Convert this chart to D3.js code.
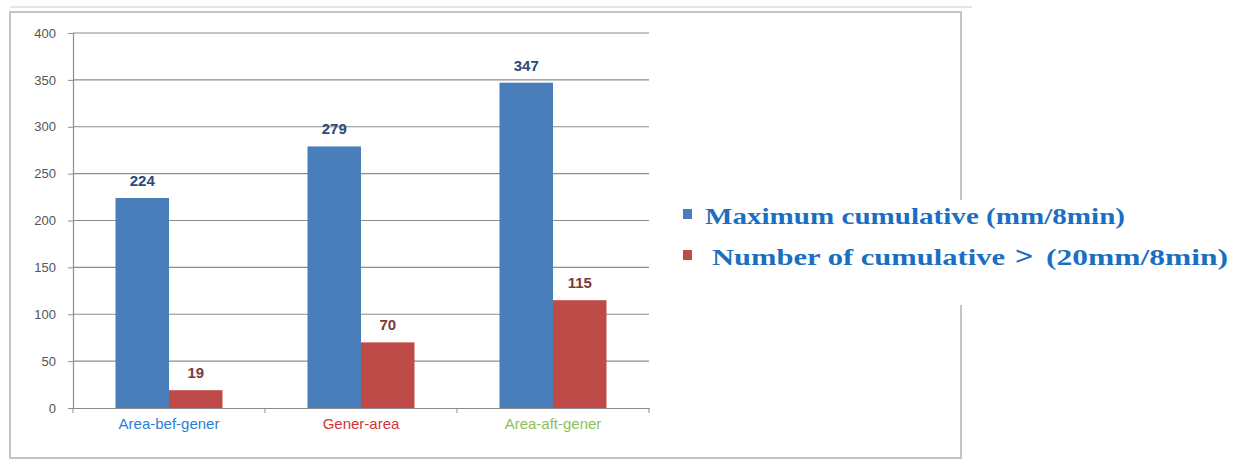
<!DOCTYPE html>
<html>
<head>
<meta charset="utf-8">
<script src="https://cdn.jsdelivr.net/npm/d3@7"></script>
<style>
  body { margin: 0; background: #fff; }
</style>
</head>
<body>
<svg id="chart" width="1237" height="462"></svg>
<script>
// chart values
var categories = ['Area-bef-gener', 'Gener-area', 'Area-aft-gener'];
var categoryColors = ['#2a7fd4', '#d4333a', '#8cbf55'];
var seriesNames = ['Maximum cumulative (mm/8min)', 'Number of cumulative', '(20mm/8min)'];
var maxCumulative = [224, 279, 347];
var numCumulative = [19, 70, 115];
var yTicks = [0, 50, 100, 150, 200, 250, 300, 350, 400];

var svg = d3.select('#chart');

// outer frame
svg.append('line')
  .attr('x1', 10).attr('x2', 972).attr('y1', 7).attr('y2', 7)
  .attr('stroke', '#e6e6e6').attr('stroke-width', 2);
svg.append('rect')
  .attr('x', 10).attr('y', 12).attr('width', 951).attr('height', 446)
  .attr('fill', '#fff').attr('stroke', '#c4c4c4').attr('stroke-width', 2);

var margin = {left: 73, right: 649, top: 33, bottom: 408};

var x = d3.scaleBand()
  .domain(categories)
  .range([margin.left, margin.right]);

var inner = d3.scaleBand()
  .domain([0, 1])
  .range([0, 107]);

var y = d3.scaleLinear()
  .domain([0, 400])
  .range([margin.bottom, margin.top]);

// gridlines
svg.append('g')
  .selectAll('line')
  .data(yTicks.slice(1))
  .enter().append('line')
    .attr('x1', margin.left).attr('x2', margin.right)
    .attr('y1', function(d) { return y(d); })
    .attr('y2', function(d) { return y(d); })
    .attr('stroke', '#8c8c8c').attr('stroke-width', 1.2);

// y axis
var yAxis = d3.axisLeft(y).tickValues(yTicks).tickSize(5).tickPadding(12);
var yg = svg.append('g')
  .attr('transform', 'translate(' + margin.left + ',0)')
  .call(yAxis);
yg.select('.domain').attr('stroke', '#8c8c8c').attr('stroke-width', 1.2);
yg.selectAll('.tick line').attr('stroke', '#8c8c8c');
yg.selectAll('.tick text')
  .attr('fill', '#555')
  .style('font-family', 'Liberation Sans, Arial, sans-serif')
  .style('font-size', '13px');

// x axis
var xAxis = d3.axisBottom(x).tickSize(0).tickPadding(10);
var xg = svg.append('g')
  .attr('transform', 'translate(0,' + margin.bottom + ')')
  .call(xAxis);
xg.select('.domain').attr('stroke', '#8c8c8c').attr('stroke-width', 1.2);
xg.selectAll('.tick text')
  .attr('fill', function(d, i) { return categoryColors[i]; })
  .style('font-family', 'Liberation Sans, Arial, sans-serif')
  .style('font-size', '15px');
// category boundary ticks
xg.append('g').selectAll('line')
  .data(categories.concat(['end']))
  .enter().append('line')
    .attr('x1', function(d, i) { return i < 3 ? x(d) : margin.right; })
    .attr('x2', function(d, i) { return i < 3 ? x(d) : margin.right; })
    .attr('y1', 0).attr('y2', 5)
    .attr('stroke', '#8c8c8c');

var series = [
  {values: maxCumulative, fill: '#4a7ebb', label: '#2b4a7a'},
  {values: numCumulative, fill: '#be4b48', label: '#7a3a38'}
];

series.forEach(function(s, si) {
  var g = svg.append('g');
  g.selectAll('rect')
    .data(s.values)
    .enter().append('rect')
      .attr('x', function(d, i) {
        return x(categories[i]) + (x.bandwidth() - 107) / 2 + inner(si);
      })
      .attr('width', inner.bandwidth())
      .attr('y', function(d) { return y(d); })
      .attr('height', function(d) { return y(0) - y(d); })
      .attr('fill', s.fill);
  g.selectAll('text')
    .data(s.values)
    .enter().append('text')
      .attr('x', function(d, i) {
        return x(categories[i]) + (x.bandwidth() - 107) / 2 + inner(si) + inner.bandwidth() / 2;
      })
      .attr('y', function(d) { return y(d) - 12; })
      .attr('text-anchor', 'middle')
      .attr('fill', s.label)
      .style('font-family', 'Liberation Sans, Arial, sans-serif')
      .style('font-size', '15px')
      .style('font-weight', 'bold')
      .text(function(d) { return d; });
});

// legend with white backing over the frame
svg.append('rect')
  .attr('x', 670).attr('y', 200).attr('width', 567).attr('height', 105)
  .attr('fill', '#fff');

var legend = svg.append('g')
  .attr('fill', '#1b6fc2')
  .style('font-family', 'Liberation Serif, DejaVu Serif, serif')
  .style('font-size', '23px')
  .style('font-weight', 'bold');
legend.append('rect').attr('x', 683).attr('y', 209).attr('width', 9).attr('height', 10).attr('fill', '#4a7ebb');
legend.append('rect').attr('x', 683).attr('y', 250).attr('width', 9).attr('height', 10).attr('fill', '#be4b48');

function legendText(str, x0, y0, w) {
  legend.append('text')
    .attr('x', x0).attr('y', y0)
    .attr('textLength', w)
    .attr('lengthAdjust', 'spacingAndGlyphs')
    .text(str);
}
legendText(seriesNames[0], 705, 224, 420);
legendText(seriesNames[1], 712, 265, 293);
legend.append('text')
  .attr('x', 1014).attr('y', 264)
  .style('font-family', 'DejaVu Sans, sans-serif')
  .style('font-weight', 'normal')
  .style('font-size', '24px')
  .text('>');
legendText(seriesNames[2], 1046, 265, 182);
</script>
</body>
</html>
